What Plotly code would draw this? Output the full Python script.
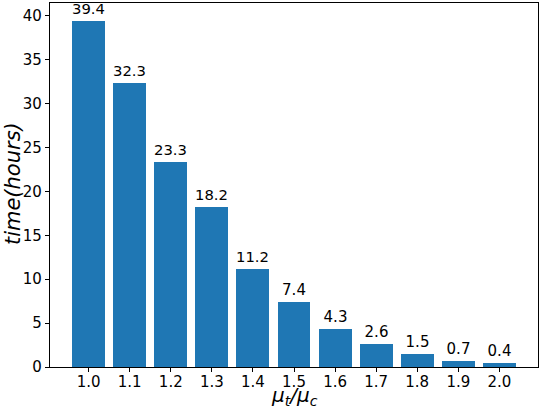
import plotly.graph_objects as go

ratios = ["1.0", "1.1", "1.2", "1.3", "1.4", "1.5", "1.6", "1.7", "1.8", "1.9", "2.0"]
hours = [39.4, 32.3, 23.3, 18.2, 11.2, 7.4, 4.3, 2.6, 1.5, 0.7, 0.4]
y_ticks = [0, 5, 10, 15, 20, 25, 30, 35, 40]

fig = go.Figure()
fig.add_trace(go.Bar(
    x=ratios,
    y=hours,
    width=0.8,
    marker_color="#1f77b4",
    marker_line_width=0,
    text=[f"{h:.1f}" for h in hours],
    textposition="outside",
    textfont=dict(size=15, color="black"),
    cliponaxis=False,
))

fig.update_layout(
    width=540, height=408,
    margin=dict(l=50, r=2, t=3, b=41, autoexpand=False),
    plot_bgcolor="white",
    paper_bgcolor="white",
    font=dict(family="DejaVu Sans", color="black"),
    showlegend=False,
    bargap=0,
)
fig.update_xaxes(
    type="category",
    range=[-0.94, 10.94],
    automargin=False,
    showline=True, linecolor="black", linewidth=1.2, mirror=True,
    ticks="outside", ticklen=4, tickcolor="black",
    ticklabelstandoff=-3,
    tickfont=dict(size=15),
    showgrid=False,
)
fig.update_yaxes(
    range=[0, 41.45],
    tickvals=y_ticks,
    automargin=False,
    showline=True, linecolor="black", linewidth=1.2, mirror=True,
    ticks="outside", ticklen=4, tickcolor="black",
    tickfont=dict(size=15),
    showgrid=False, zeroline=False,
)

# axis titles as annotations so they sit where the reference has them
fig.add_annotation(
    text="<i>μ<sub>t</sub>/μ<sub>c</sub></i>",
    xref="paper", yref="paper", x=0.5, y=-0.079,
    xanchor="center", yanchor="middle",
    showarrow=False, font=dict(size=20),
)
fig.add_annotation(
    text="<i>time(hours)</i>",
    xref="paper", yref="paper", x=-0.076, y=0.505,
    xanchor="center", yanchor="middle", textangle=-90,
    showarrow=False, font=dict(size=21),
)

# the page body has a default 8px margin, drop it so the figure sits at 0,0
fig.write_html("out.html", config={"displayModeBar": False},
               post_script="document.body.style.margin='0';")
